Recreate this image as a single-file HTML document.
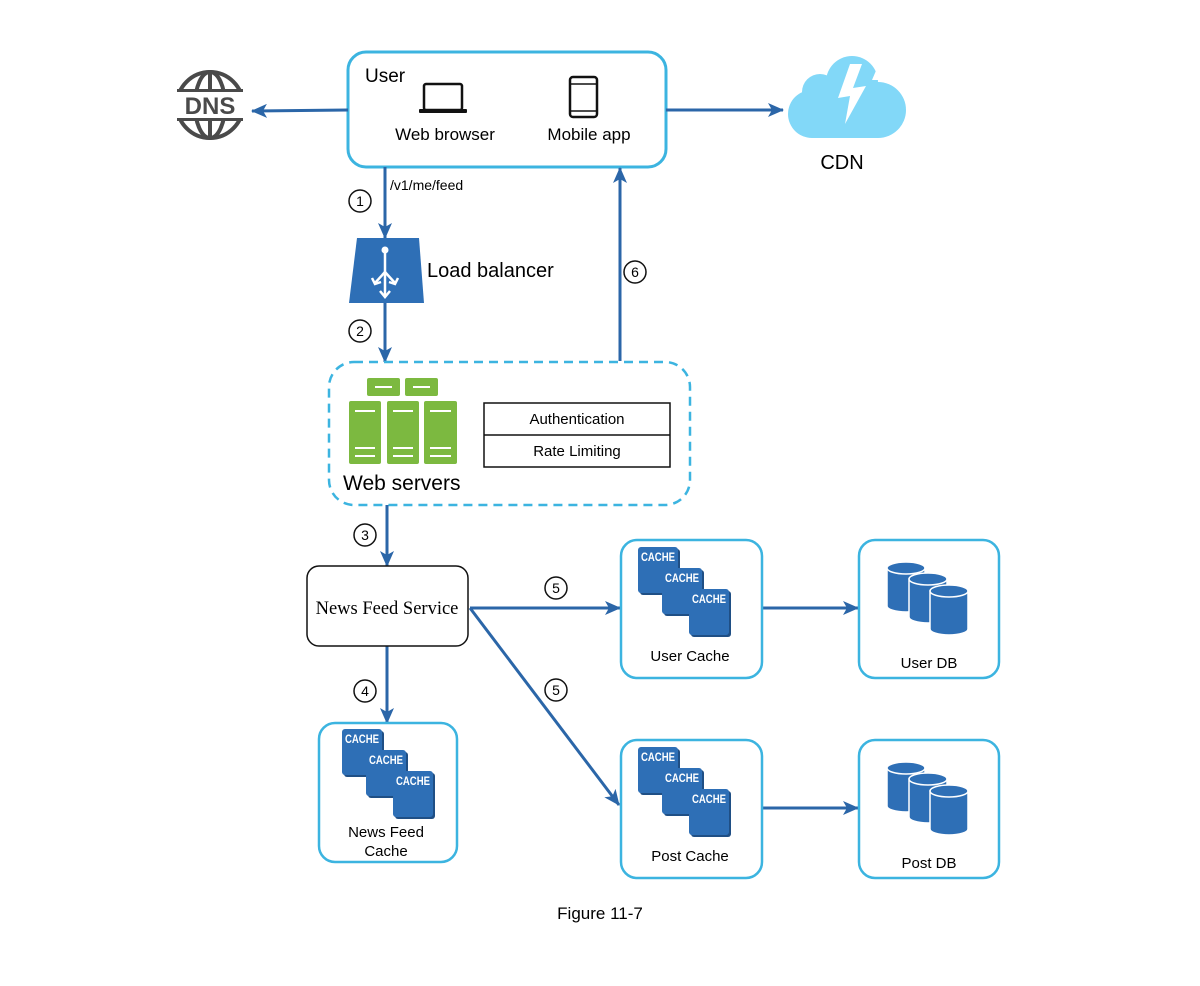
<!DOCTYPE html>
<html><head><meta charset="utf-8"><style>
html,body{margin:0;padding:0;background:#fff;}
svg{display:block;font-family:"Liberation Sans",sans-serif;}
</style></head><body>
<svg width="1200" height="986" viewBox="0 0 1200 986" xmlns="http://www.w3.org/2000/svg">
<defs>
<marker id="ar" markerWidth="16" markerHeight="14" refX="15" refY="7" orient="auto" markerUnits="userSpaceOnUse">
<path d="M0,0 L16,7 L0,14 L4,7 Z" fill="#2b66a8"/></marker>
<g id="cblk">
<rect x="2" y="2" width="40" height="46" rx="3" fill="#1f4f85"/>
<rect x="0" y="0" width="40" height="46" rx="3" fill="#2e6fb6"/>
<text x="3" y="14" font-size="12" font-weight="bold" fill="#fff" textLength="34" lengthAdjust="spacingAndGlyphs">CACHE</text>
</g>
<g id="cache">
<use href="#cblk"/>
<use href="#cblk" x="24" y="21"/>
<use href="#cblk" x="51" y="42"/>
</g>
<g id="cyl">
<path d="M0,6 L0,44 A19,6 0 0 0 38,44 L38,6 Z" fill="#2e6fb6" stroke="#fff" stroke-width="1.5"/>
<ellipse cx="19" cy="6" rx="19" ry="6" fill="#2e6fb6" stroke="#fff" stroke-width="1.5"/>
</g>
<g id="db">
<use href="#cyl" x="0" y="0"/>
<use href="#cyl" x="22" y="11"/>
<use href="#cyl" x="43" y="23"/>
</g>
</defs>

<!-- DNS globe -->
<g transform="translate(210,105)" fill="none" stroke="#4a4a4a" stroke-width="4">
<circle r="33"/>
<ellipse rx="15" ry="33"/>
<line x1="0" y1="-33" x2="0" y2="33"/>
<line x1="-33" y1="-14" x2="33" y2="-14"/>
<line x1="-33" y1="14" x2="33" y2="14"/>
</g>
<rect x="175" y="92" width="70" height="26" fill="#fff"/>
<text x="210" y="114" font-size="24" font-weight="bold" fill="#4a4a4a" text-anchor="middle">DNS</text>

<!-- User box -->
<rect x="348" y="52" width="318" height="115" rx="18" fill="#fff" stroke="#3cb4e0" stroke-width="3"/>
<text x="365" y="82" font-size="19">User</text>
<rect x="424" y="84" width="38" height="26" rx="2" fill="none" stroke="#111" stroke-width="2.5"/>
<rect x="419" y="109" width="48" height="4" rx="1" fill="#111"/>
<rect x="570" y="77" width="27" height="40" rx="3" fill="none" stroke="#111" stroke-width="2.5"/>
<line x1="570" y1="84" x2="597" y2="84" stroke="#111" stroke-width="1.5"/>
<line x1="570" y1="111" x2="597" y2="111" stroke="#111" stroke-width="1.5"/>
<text x="445" y="140" font-size="17" text-anchor="middle">Web browser</text>
<text x="589" y="140" font-size="17" text-anchor="middle">Mobile app</text>

<!-- CDN cloud -->
<g fill="#82d8f8">
<circle cx="820" cy="92" r="18"/>
<circle cx="852" cy="82" r="26"/>
<circle cx="878" cy="110" r="28"/>
<circle cx="812" cy="114" r="24"/>
<rect x="812" y="100" width="66" height="38"/>
</g>
<path d="M850,64 L862,64 L853,88 L866,86 L845,124 L850,96 L838,98 Z" fill="#fff"/>
<path d="M878,66 L888,80 L872,80 Z" fill="#fff"/>
<text x="842" y="169" font-size="20" text-anchor="middle">CDN</text>

<g stroke="#2b66a8" stroke-width="3" fill="none">
<line x1="348" y1="110" x2="252" y2="111" marker-end="url(#ar)"/>
<line x1="666" y1="110" x2="783" y2="110" marker-end="url(#ar)"/>
<line x1="385" y1="167" x2="385" y2="238" marker-end="url(#ar)"/>
<line x1="385" y1="303" x2="385" y2="362" marker-end="url(#ar)"/>
<line x1="620" y1="361" x2="620" y2="168" marker-end="url(#ar)"/>
<line x1="387" y1="505" x2="387" y2="566" marker-end="url(#ar)"/>
<line x1="470" y1="608" x2="620" y2="608" marker-end="url(#ar)"/>
<line x1="470" y1="608" x2="619" y2="805" marker-end="url(#ar)"/>
<line x1="387" y1="646" x2="387" y2="723" marker-end="url(#ar)"/>
<line x1="762" y1="608" x2="858" y2="608" marker-end="url(#ar)"/>
<line x1="762" y1="808" x2="858" y2="808" marker-end="url(#ar)"/>
</g>

<g fill="#fff" stroke="#111" stroke-width="1.5" font-size="14">
<circle cx="360" cy="201" r="11"/><circle cx="360" cy="331" r="11"/>
<circle cx="635" cy="272" r="11"/><circle cx="365" cy="535" r="11"/>
<circle cx="556" cy="588" r="11"/><circle cx="556" cy="690" r="11"/>
<circle cx="365" cy="691" r="11"/>
</g>
<g font-size="14" text-anchor="middle">
<text x="360" y="206">1</text><text x="360" y="336">2</text>
<text x="635" y="277">6</text><text x="365" y="540">3</text>
<text x="556" y="593">5</text><text x="556" y="695">5</text>
<text x="365" y="696">4</text>
</g>
<text x="390" y="190" font-size="14">/v1/me/feed</text>

<!-- Load balancer -->
<path d="M357,238 L419,238 L424,303 L349,303 Z" fill="#2e6fb6"/>
<g stroke="#fff" stroke-width="2.5" fill="none">
<line x1="385" y1="250" x2="385" y2="296"/>
<line x1="385" y1="272" x2="375" y2="283"/>
<line x1="385" y1="272" x2="395" y2="283"/>
<path d="M372,278 L375,284 L381,282"/><path d="M398,278 L395,284 L389,282"/>
<path d="M380,291 L385,297 L390,291"/>
</g>
<circle cx="385" cy="250" r="3.5" fill="#fff"/>
<text x="427" y="277" font-size="20">Load balancer</text>

<!-- Web servers -->
<rect x="329" y="362" width="361" height="143" rx="25" fill="none" stroke="#3cb4e0" stroke-width="2.5" stroke-dasharray="9,6"/>
<g fill="#7cb940">
<rect x="367" y="378" width="33" height="18" rx="2"/><rect x="405" y="378" width="33" height="18" rx="2"/>
<rect x="349" y="401" width="32" height="63" rx="2"/><rect x="387" y="401" width="32" height="63" rx="2"/><rect x="424" y="401" width="33" height="63" rx="2"/>
</g>
<g stroke="#fff" stroke-width="2">
<line x1="375" y1="387" x2="392" y2="387"/><line x1="413" y1="387" x2="430" y2="387"/>
<line x1="355" y1="411" x2="375" y2="411"/><line x1="393" y1="411" x2="413" y2="411"/><line x1="430" y1="411" x2="451" y2="411"/>
<line x1="355" y1="448" x2="375" y2="448"/><line x1="393" y1="448" x2="413" y2="448"/><line x1="430" y1="448" x2="451" y2="448"/>
<line x1="355" y1="456" x2="375" y2="456"/><line x1="393" y1="456" x2="413" y2="456"/><line x1="430" y1="456" x2="451" y2="456"/>
</g>
<text x="343" y="490" font-size="21">Web servers</text>
<rect x="484" y="403" width="186" height="64" fill="#fff" stroke="#111" stroke-width="1.5"/>
<line x1="484" y1="435" x2="670" y2="435" stroke="#111" stroke-width="1.5"/>
<text x="577" y="424" font-size="15" text-anchor="middle">Authentication</text>
<text x="577" y="456" font-size="15" text-anchor="middle">Rate Limiting</text>

<!-- News Feed Service -->
<rect x="307" y="566" width="161" height="80" rx="12" fill="#fff" stroke="#111" stroke-width="1.5"/>
<text x="387" y="614" font-size="18.5" text-anchor="middle" font-family="Liberation Serif,serif">News Feed Service</text>

<!-- Boxes -->
<g fill="#fff" stroke="#3cb4e0" stroke-width="2.5">
<rect x="319" y="723" width="138" height="139" rx="16"/>
<rect x="621" y="540" width="141" height="138" rx="16"/>
<rect x="859" y="540" width="140" height="138" rx="16"/>
<rect x="621" y="740" width="141" height="138" rx="16"/>
<rect x="859" y="740" width="140" height="138" rx="16"/>
</g>
<use href="#cache" x="342" y="729"/>
<use href="#cache" x="638" y="547"/>
<use href="#cache" x="638" y="747"/>
<use href="#db" x="887" y="562"/>
<use href="#db" x="887" y="762"/>
<g font-size="15" text-anchor="middle">
<text x="386" y="837">News Feed</text><text x="386" y="856">Cache</text>
<text x="690" y="661">User Cache</text>
<text x="929" y="668">User DB</text>
<text x="690" y="861">Post Cache</text>
<text x="929" y="868">Post DB</text>
</g>
<text x="600" y="919" font-size="17" text-anchor="middle">Figure 11-7</text>
</svg>
</body></html>
